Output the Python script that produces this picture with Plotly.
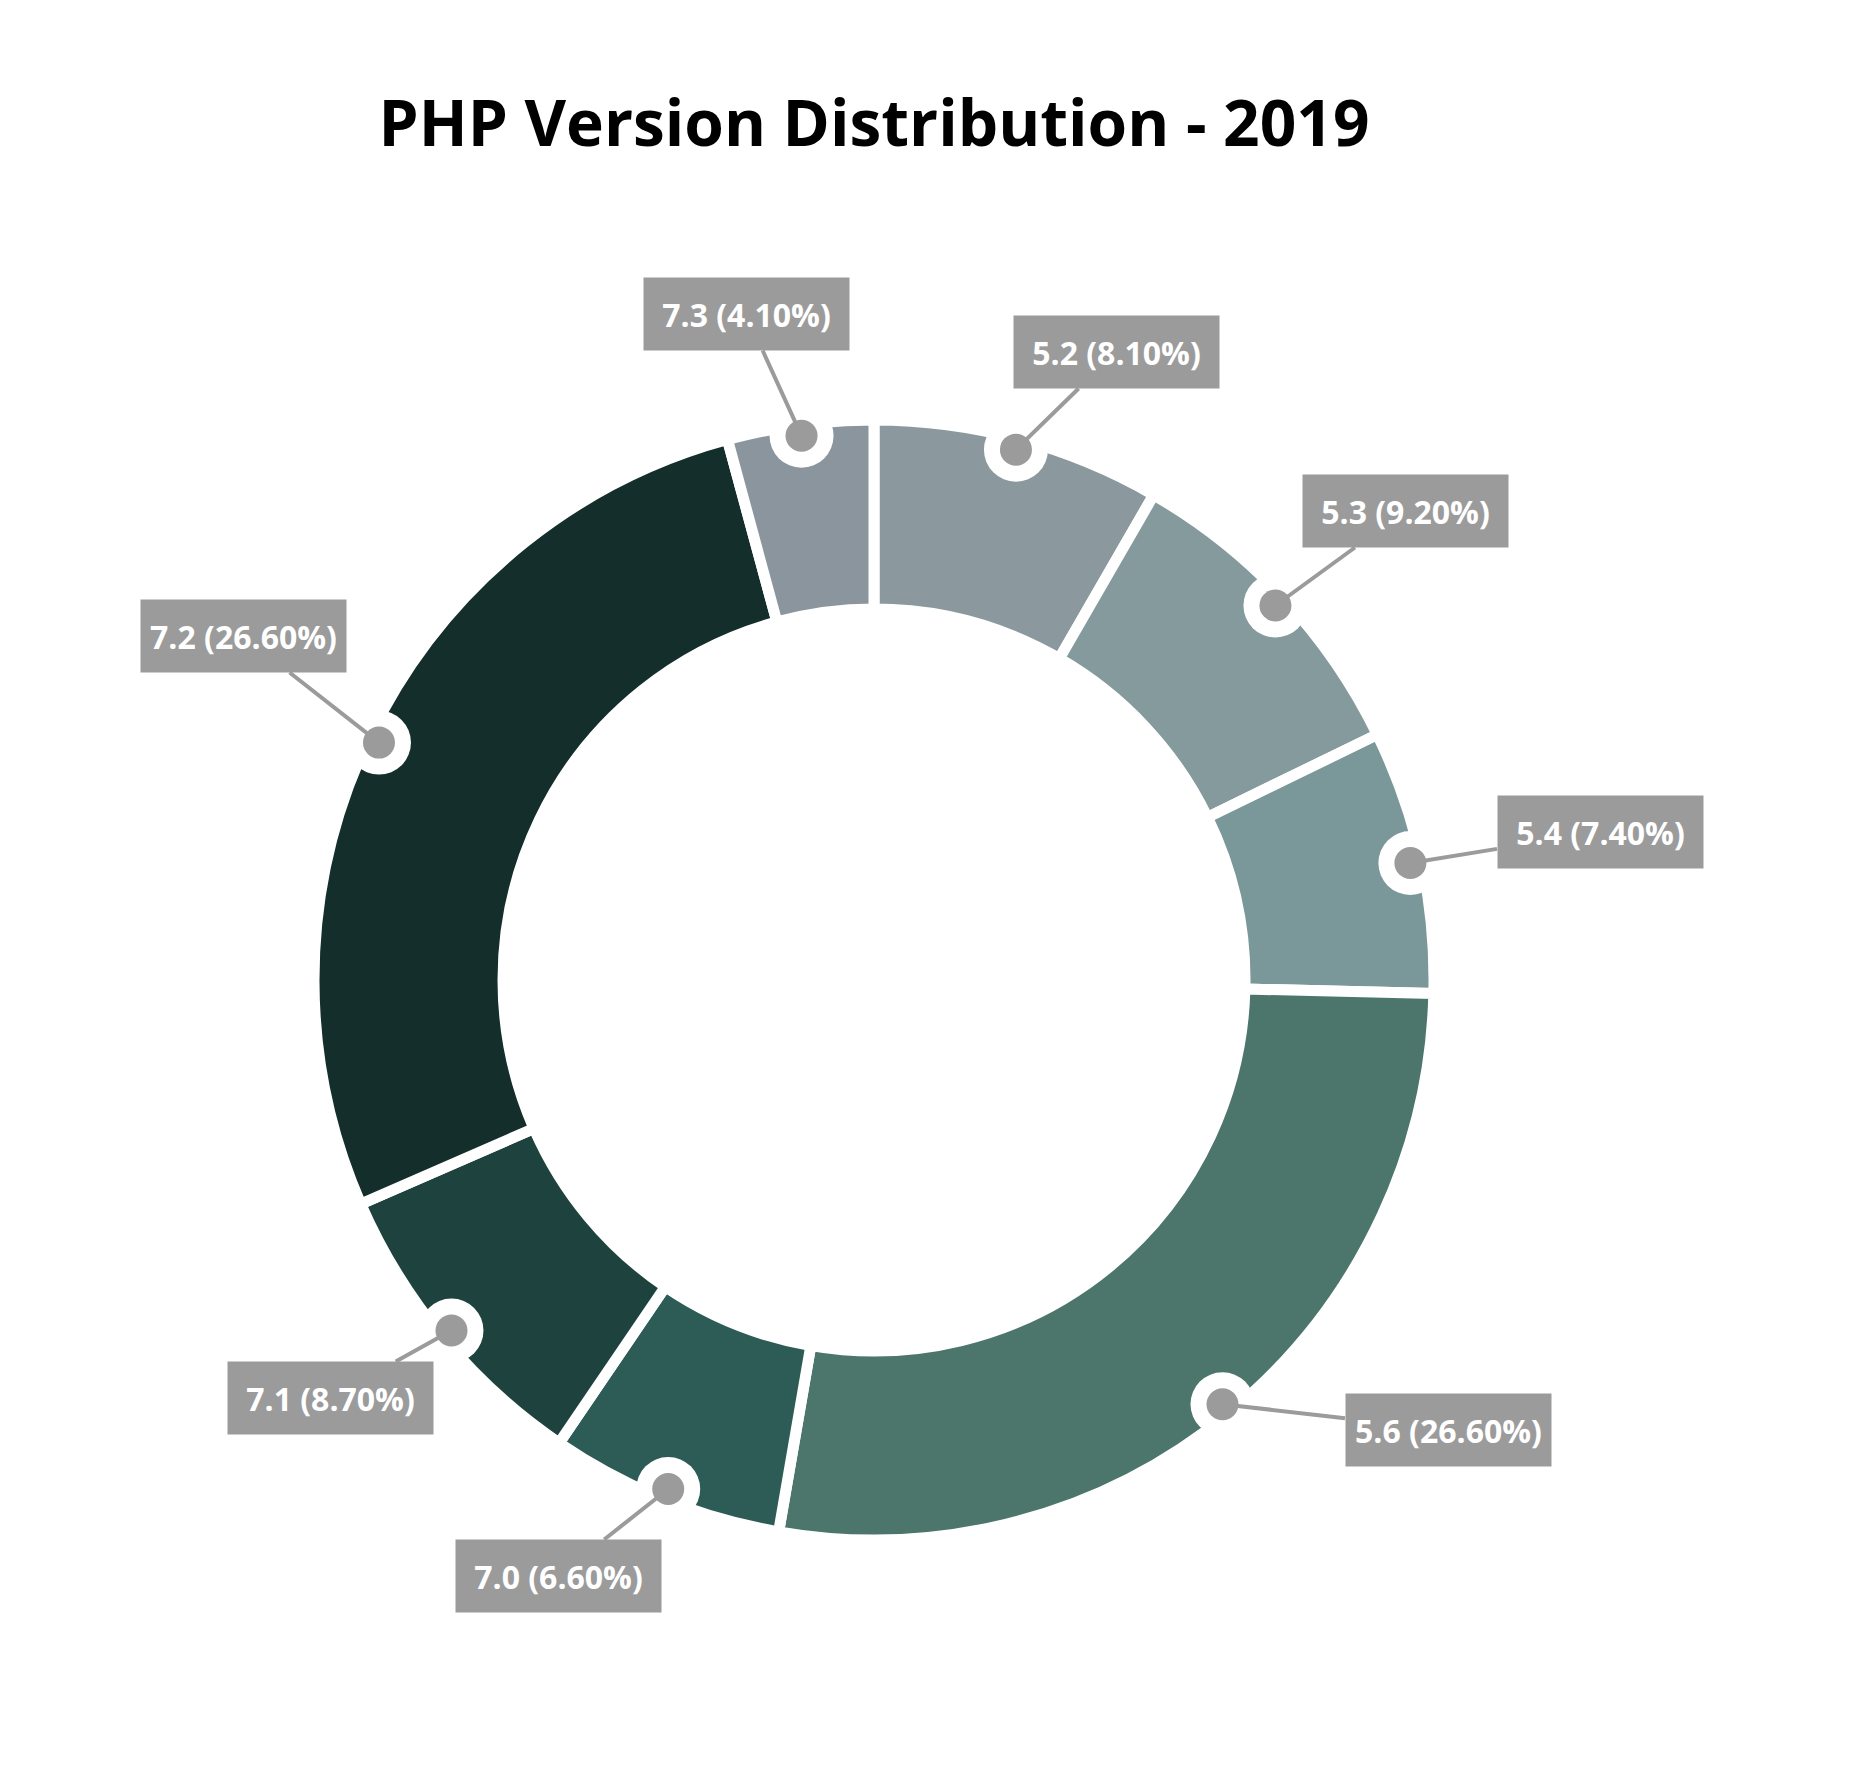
import math
import plotly.graph_objects as go

# ---------------- data ----------------
versions = ["5.2", "5.3", "5.4", "5.6", "7.0", "7.1", "7.2", "7.3"]
shares = [8.1, 9.2, 7.4, 26.6, 6.6, 8.7, 26.6, 4.1]
slice_colors = ["#8B999F", "#859A9C", "#7A979A", "#4C766B",
                "#2D5B56", "#1E423E", "#132E2B", "#8A959E"]
title_text = "PHP Version Distribution - 2019"

# ---------------- layout constants ----------------
W, H = 1856, 1780
CX, CY = 874, 980          # ring centre (px)
R_PIE = 560                # pie radius incl. half the gap stroke
HOLE = 0.6625
GAP = 11
R_DOT = 549
DOT_R, RING_R = 16, 32
TAG_GRAY = "#9B9B9B"
# label box centres (px)
label_pos = [(1116, 352), (1405, 511), (1600, 832), (1448, 1430),
             (558, 1576), (330, 1398), (243, 636), (746, 314)]

labels = [f"{v} ({s:.2f}%)" for v, s in zip(versions, shares)]

fig = go.Figure()
fig.add_trace(go.Pie(
    labels=versions, values=shares, sort=False, direction="clockwise",
    rotation=0, hole=HOLE, textinfo="none", hoverinfo="skip",
    marker=dict(colors=slice_colors, line=dict(color="white", width=GAP)),
    domain=dict(x=[(CX - R_PIE) / W, (CX + R_PIE) / W],
                y=[(H - CY - R_PIE) / H, (H - CY + R_PIE) / H]),
    showlegend=False,
))

def px2paper(x, y):
    return x / W, 1 - y / H

total = sum(shares)
cum = 0.0
shapes, annotations = [], []
for i, s in enumerate(shares):
    mid = (cum + s / 2) / total * 2 * math.pi
    cum += s
    dx, dy = CX + R_DOT * math.sin(mid), CY - R_DOT * math.cos(mid)
    for r, col in ((RING_R, "white"), (DOT_R, TAG_GRAY)):
        x0, y1 = px2paper(dx - r, dy - r)
        x1, y0 = px2paper(dx + r, dy + r)
        shapes.append(dict(type="circle", xref="paper", yref="paper",
                           x0=x0, x1=x1, y0=y0, y1=y1, layer="above",
                           fillcolor=col, line=dict(width=0)))
    bx, by = label_pos[i]
    px, py = px2paper(dx, dy)
    annotations.append(dict(
        x=px, y=py, xref="paper", yref="paper",
        ax=bx - dx, ay=by - dy, axref="pixel", ayref="pixel",
        text=labels[i], showarrow=True, arrowhead=0, arrowwidth=4,
        arrowcolor=TAG_GRAY, standoff=0,
        bgcolor=TAG_GRAY, borderpad=0, width=205, height=72,
        font=dict(family="Open Sans", size=32, color="white", weight="bold"),
    ))

fig.update_layout(
    width=W, height=H, margin=dict(l=0, r=0, t=0, b=0),
    paper_bgcolor="white", plot_bgcolor="white",
    shapes=shapes, annotations=annotations, hovermode=False,
    title=dict(text=title_text, x=CX / W, xanchor="center",
               y=1 - 124 / H, yanchor="middle",
               font=dict(family="Open Sans", size=64, color="black", weight="bold")),
)

fig.write_html("out.html")
